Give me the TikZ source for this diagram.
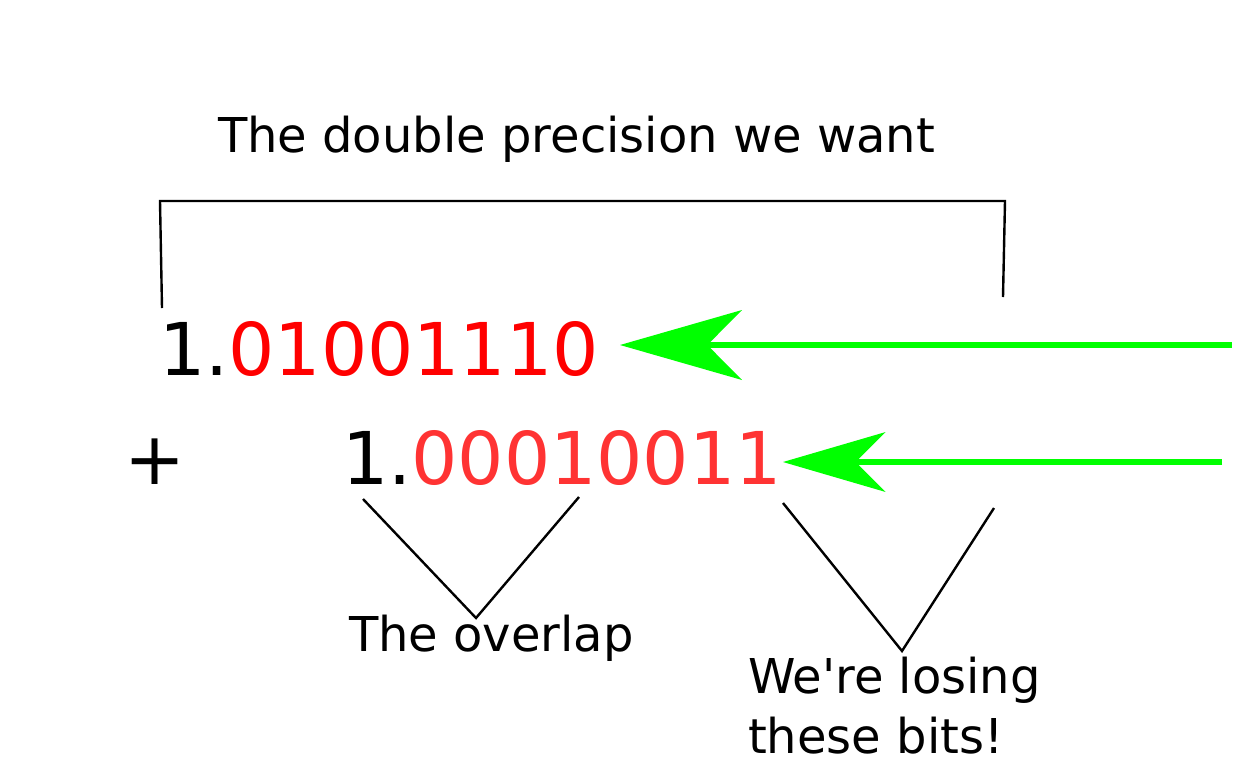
\documentclass[tikz,border=0pt]{standalone}
\usepackage{fontspec}
\setmainfont{DejaVu Sans}
\usetikzlibrary{arrows.meta}
\definecolor{redA}{RGB}{255,0,0}
\definecolor{redB}{RGB}{255,51,51}
\definecolor{greenA}{RGB}{0,255,0}
\begin{document}
\begin{tikzpicture}[x=0.75pt,y=-0.75pt,
  lbl/.style={inner sep=0pt,outer sep=0pt,anchor=base west,font=\fontsize{36pt}{45pt}\selectfont},
  bignum/.style={inner sep=0pt,outer sep=0pt,anchor=base west,font=\fontsize{54.6pt}{64pt}\selectfont},
  bracketline/.style={draw=black,line width=1.8pt,line join=miter},
  arrowA/.style={draw=greenA,line width=5pt,-{Stealth[length=91.5pt,width=52.5pt,inset=26pt,line width=0pt]}},
  arrowB/.style={draw=greenA,line width=4.3pt,-{Stealth[length=77pt,width=45pt,inset=22.5pt,line width=0pt]}}]
\useasboundingbox (0,0) rectangle (1260,765);
% texts
\node[lbl] (title) at (218,152) {The double precision we want};
\node[bignum] (numA) at (159,375) {1.\textcolor{redA}{01001110}};
\node[bignum] (plus) at (124,484) {+};
\node[bignum] (numB) at (342,484) {1.\textcolor{redB}{00010011}};
\node[lbl] (overlap) at (349,651) {The overlap};
\node[lbl,align=left] (losing) at (748,753) {We\textquotesingle re losing\\these bits!};
% bracket
\coordinate (bL) at (162,308);
\coordinate (bR) at (1003,297);
\draw[bracketline] (bL) -- (160,201) -- (1005,201) -- (bR);
% overlap V
\coordinate (oA) at (363,499);
\coordinate (oB) at (579,497);
\draw[bracketline] (oA) -- (476,618) -- (oB);
% losing V
\coordinate (lA) at (783,503);
\coordinate (lB) at (994,508);
\draw[bracketline] (lA) -- (902,651) -- (lB);
% green arrows
\coordinate (gA1) at (1232,345);
\coordinate (gA2) at (620,345);
\draw[arrowA] (gA1) -- (gA2);
\coordinate (gB1) at (1222,462);
\coordinate (gB2) at (783,462);
\draw[arrowB] (gB1) -- (gB2);
\end{tikzpicture}
\end{document}
